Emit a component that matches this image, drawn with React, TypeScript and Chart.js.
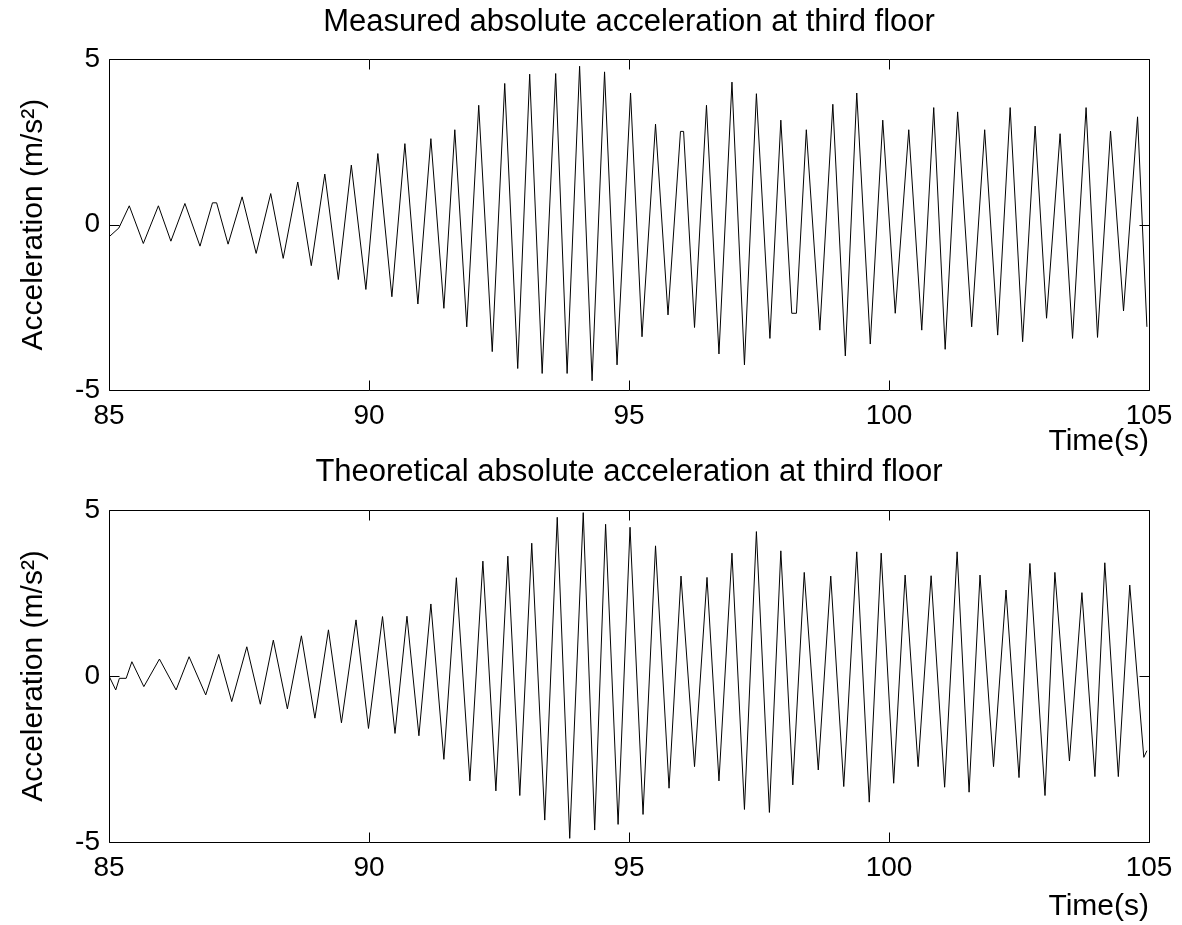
import React, { useEffect, useRef } from "react";
import { Chart, registerables } from "chart.js";

Chart.register(...registerables);

// ---- Data ----
const measuredTime = [
  85.0, 85.19, 85.39, 85.66, 85.95, 86.19, 86.46, 86.75, 86.99, 87.07, 87.29, 87.56, 87.83, 88.11, 88.35,
  88.63, 88.89, 89.15, 89.41, 89.66, 89.94, 90.17, 90.44, 90.69, 90.94, 91.19, 91.44, 91.65, 91.88,
  92.11, 92.37, 92.61, 92.86, 93.09, 93.33, 93.59, 93.81, 94.05, 94.29, 94.53, 94.77, 95.03, 95.25,
  95.51, 95.75, 95.99, 96.05, 96.26, 96.49, 96.73, 96.98, 97.22, 97.45, 97.71, 97.92, 98.13, 98.22,
  98.41, 98.67, 98.92, 99.16, 99.38, 99.64, 99.88, 100.12, 100.38, 100.63, 100.86, 101.08, 101.32,
  101.59, 101.84, 102.09, 102.33, 102.57, 102.81, 103.03, 103.29, 103.53, 103.79, 104.01, 104.26,
  104.51, 104.78, 104.96,
];
const measuredAccel = [
  -0.37, -0.1, 0.57, -0.57, 0.57, -0.5, 0.64, -0.65, 0.66, 0.66, -0.59, 0.84, -0.87, 0.94, -1.02,
  1.29, -1.24, 1.53, -1.66, 1.8, -1.96, 2.15, -2.18, 2.45, -2.4, 2.6, -2.53, 2.87, -3.09,
  3.61, -3.84, 4.27, -4.35, 4.55, -4.5, 4.57, -4.5, 4.79, -4.72, 4.62, -4.24, 3.98, -3.39,
  3.04, -2.73, 2.82, 2.82, -3.11, 3.61, -3.91, 4.31, -4.24, 3.96, -3.44, 3.16, -2.68, -2.68,
  2.87, -3.19, 3.64, -3.97, 3.98, -3.61, 3.16, -2.68, 2.87, -3.19, 3.54, -3.77, 3.41,
  -3.09, 2.87, -3.34, 3.54, -3.54, 2.98, -2.83, 2.75, -3.44, 3.54, -3.41, 2.83,
  -2.61, 3.26, -3.09,
];

const theoreticalTime = [
  85.0, 85.13, 85.2, 85.33, 85.44, 85.67, 85.97, 86.29, 86.54, 86.86, 87.11, 87.36, 87.65, 87.91,
  88.16, 88.43, 88.7, 88.96, 89.22, 89.47, 89.75, 89.99, 90.26, 90.5, 90.73, 90.96, 91.19, 91.44,
  91.68, 91.94, 92.19, 92.44, 92.67, 92.9, 93.13, 93.38, 93.62, 93.86, 94.12, 94.34, 94.55, 94.79,
  95.02, 95.27, 95.51, 95.77, 96.0, 96.26, 96.5, 96.73, 96.98, 97.22, 97.45, 97.7, 97.92, 98.15,
  98.37, 98.64, 98.88, 99.13, 99.38, 99.62, 99.85, 100.09, 100.31, 100.56, 100.81, 101.07, 101.31,
  101.54, 101.75, 102.01, 102.25, 102.5, 102.71, 103.0, 103.19, 103.47, 103.71, 103.96, 104.15,
  104.41, 104.63, 104.9, 104.96,
];
const theoreticalAccel = [
  0.0, -0.42, -0.07, -0.07, 0.43, -0.32, 0.51, -0.42, 0.58, -0.57, 0.65, -0.77, 0.88, -0.85,
  1.08, -0.99, 1.21, -1.27, 1.39, -1.41, 1.69, -1.58, 1.79, -1.73, 1.8, -1.8, 2.17, -2.51,
  2.96, -3.16, 3.46, -3.46, 3.61, -3.6, 4.0, -4.34, 4.78, -4.89, 4.92, -4.64, 4.57, -4.47,
  4.48, -4.17, 3.92, -3.38, 3.01, -2.73, 2.97, -3.16, 3.7, -4.02, 4.35, -4.11, 3.77, -3.28,
  3.12, -2.83, 3.01, -3.33, 3.74, -3.8, 3.7, -3.23, 3.04, -2.73, 3.02, -3.35, 3.74,
  -3.5, 3.04, -2.73, 2.59, -3.06, 3.39, -3.6, 3.12, -2.56, 2.51, -3.03, 3.41,
  -3.03, 2.74, -2.45, -2.25,
];

const xTickValues = [85, 90, 95, 100, 105];
const yTickValues = [-5, 0, 5];
const xLabel = "Time(s)";
const yLabel = "Acceleration (m/s²)";
const title1 = "Measured absolute acceleration at third floor";
const title2 = "Theoretical absolute acceleration at third floor";

const FONT_FAMILY = "'Liberation Sans', Arial, Helvetica, sans-serif";
const TICK_FONT = { family: FONT_FAMILY, size: 28, weight: "normal" as const };
const LABEL_FONT = { family: FONT_FAMILY, size: 30, weight: "normal" as const };
const TITLE_FONT = { family: FONT_FAMILY, size: 31, weight: "normal" as const };

const framePlugin = {
  id: "matlabFrame",
  afterDatasetsDraw(chart: any) {
    const { ctx, chartArea: a, scales } = chart;
    const x = scales.x;
    const y = scales.y;
    const L = Math.round(a.left) + 0.5;
    const R = Math.round(a.right) + 0.5;
    const T = Math.round(a.top) + 0.5;
    const B = Math.round(a.bottom) + 0.5;
    ctx.save();
    ctx.strokeStyle = "#000";
    ctx.lineWidth = 1;
    ctx.beginPath();
    ctx.rect(L, T, R - L, B - T);
    const tick = 10;
    xTickValues.forEach((v) => {
      const px = Math.round(x.getPixelForValue(v)) + 0.5;
      ctx.moveTo(px, B);
      ctx.lineTo(px, B - tick);
      ctx.moveTo(px, T);
      ctx.lineTo(px, T + tick);
    });
    yTickValues.forEach((v) => {
      const py = Math.round(y.getPixelForValue(v)) + 0.5;
      ctx.moveTo(L, py);
      ctx.lineTo(L + tick, py);
      ctx.moveTo(R, py);
      ctx.lineTo(R - tick, py);
    });
    ctx.stroke();
    ctx.restore();
  },
};

type PanelProps = {
  top: number;
  height: number;
  title: string;
  titlePad: { top: number; bottom: number };
  xAxisHeight: number;
  xTitleBottom: number;
  times: number[];
  values: number[];
};

function Panel(props: PanelProps) {
  const ref = useRef<HTMLCanvasElement | null>(null);
  useEffect(() => {
    if (!ref.current) return;
    const chart = new Chart(ref.current, {
      type: "line",
      data: {
        datasets: [
          {
            data: props.times.map((t, i) => ({ x: t, y: props.values[i] })),
            borderColor: "#000",
            borderWidth: 1,
            pointRadius: 0,
            tension: 0,
            fill: false,
          },
        ],
      },
      options: {
        responsive: false,
        animation: false,
        devicePixelRatio: 1,
        layout: { padding: { left: 0, right: 33, top: 0, bottom: 0 } },
        plugins: {
          legend: { display: false },
          tooltip: { enabled: false },
          title: {
            display: true,
            text: props.title,
            color: "#000",
            font: TITLE_FONT,
            padding: props.titlePad,
            fullSize: false,
          },
        },
        scales: {
          x: {
            type: "linear",
            min: 85,
            max: 105,
            grid: { display: false, drawTicks: false },
            border: { display: false },
            ticks: {
              stepSize: 5,
              color: "#000",
              font: TICK_FONT,
              padding: 9,
              maxRotation: 0,
              autoSkip: false,
            },
            title: {
              display: true,
              text: xLabel,
              align: "end",
              color: "#000",
              font: LABEL_FONT,
              padding: { top: 0, bottom: props.xTitleBottom },
            },
            afterFit(scale: any) {
              scale.height = props.xAxisHeight;
            },
          },
          y: {
            type: "linear",
            min: -5,
            max: 5,
            grid: { display: false, drawTicks: false },
            border: { display: false },
            ticks: {
              stepSize: 5,
              color: "#000",
              font: TICK_FONT,
              padding: 9,
            },
            title: {
              display: true,
              text: yLabel,
              color: "#000",
              font: LABEL_FONT,
              padding: { top: 16, bottom: 0 },
            },
            afterFit(scale: any) {
              scale.width = 109;
            },
          },
        },
      } as any,
      plugins: [framePlugin],
    });
    return () => chart.destroy();
  }, []);
  return (
    <canvas
      ref={ref}
      width={1182}
      height={props.height}
      style={{ position: "absolute", left: 0, top: props.top, width: 1182, height: props.height }}
    />
  );
}

export default function App() {
  return (
    <div style={{ position: "absolute", left: 0, top: 0, width: 1182, height: 925, background: "#fff" }}>
      <Panel
        top={0}
        height={460}
        title={title1}
        titlePad={{ top: 3.4, bottom: 18.7 }}
        xAxisHeight={70}
        xTitleBottom={0}
        times={measuredTime}
        values={measuredAccel}
      />
      <Panel
        top={440}
        height={485}
        title={title2}
        titlePad={{ top: 13.4, bottom: 19.4 }}
        xAxisHeight={83}
        xTitleBottom={0}
        times={theoreticalTime}
        values={theoreticalAccel}
      />
    </div>
  );
}
